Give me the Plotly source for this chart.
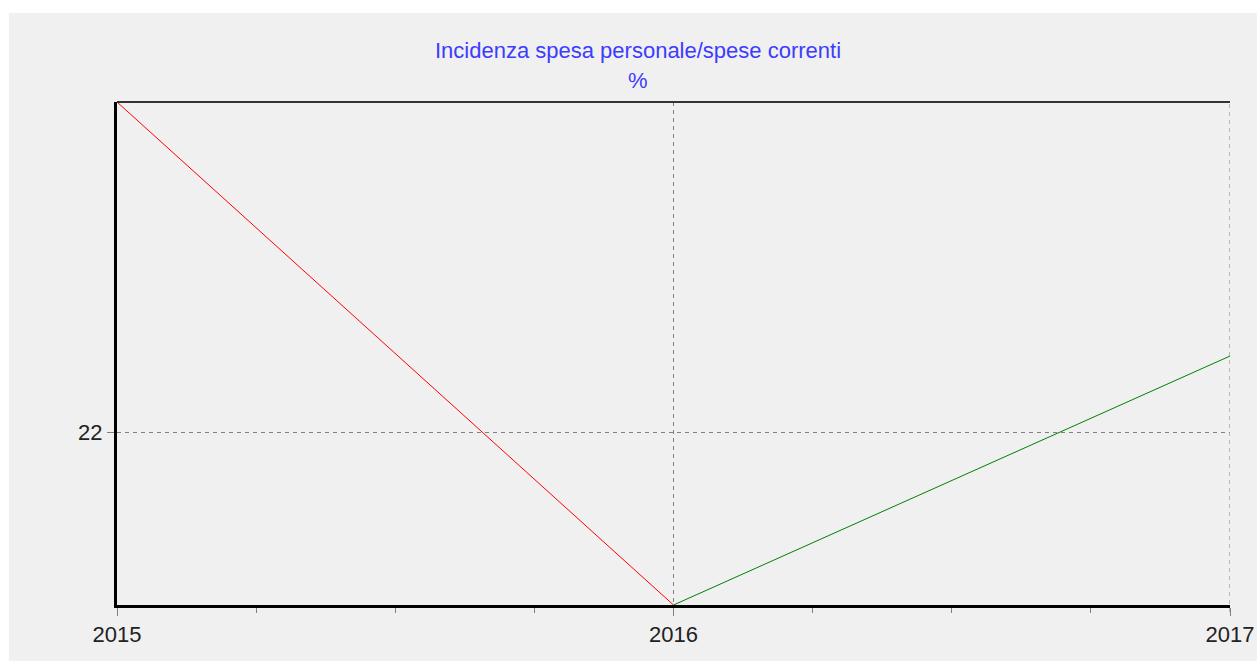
import plotly.graph_objects as go

years = [2015, 2016, 2017]
values = [22.65, 21.66, 22.15]
x_ticks = [2015, 2016, 2017]
y_ticks = [22]
title_line1 = "Incidenza spesa personale/spese correnti"
title_line2 = "%"

W, H = 1257, 661
L, R, T, B = 117, 27, 102, 56
pw = W - L - R
ph = H - T - B
DASH = "4px,4px"

fig = go.Figure()
fig.add_trace(go.Scatter(x=years[0:2], y=values[0:2], mode="lines",
                         line=dict(color="#ff0000", width=1), showlegend=False))
fig.add_trace(go.Scatter(x=years[1:3], y=values[1:3], mode="lines",
                         line=dict(color="#008000", width=1), showlegend=False))

def px_x(p):
    return (p - L) / pw

def px_y(p):
    return (H - B - p) / ph

fig.add_shape(type="rect", xref="paper", yref="paper",
              x0=px_x(9), x1=px_x(1270), y0=px_y(661), y1=px_y(13),
              fillcolor="#f0f0f0", line=dict(width=0), layer="below")
# right edge gridline (at last x tick)
fig.add_shape(type="line", xref="x", yref="paper",
              x0=max(years), x1=max(years), y0=px_y(612), y1=1,
              line=dict(color="#808080", width=1, dash=DASH), layer="below")
# top border
fig.add_shape(type="line", xref="paper", yref="paper",
              x0=0, x1=1, y0=1, y1=1, line=dict(color="#333333", width=2))

font = "Liberation Sans, Arial, sans-serif"
fig.add_annotation(text=title_line1, xref="paper", yref="paper",
                   x=px_x(638), y=px_y(51), showarrow=False,
                   font=dict(family=font, size=22, color="#3c3cff"),
                   xanchor="center", yanchor="middle")
fig.add_annotation(text=title_line2, xref="paper", yref="paper",
                   x=px_x(638), y=px_y(80), showarrow=False,
                   font=dict(family=font, size=22, color="#3c3cff"),
                   xanchor="center", yanchor="middle")

fig.update_layout(
    width=W, height=H, autosize=False,
    margin=dict(l=L, r=R, t=T, b=B, pad=0, autoexpand=False),
    paper_bgcolor="white",
    plot_bgcolor="rgba(0,0,0,0)",
    showlegend=False,
)
fig.update_xaxes(
    range=[min(years), max(years)],
    tickvals=x_ticks, ticktext=[str(v) for v in x_ticks],
    showgrid=True, gridcolor="#808080", griddash=DASH, gridwidth=1,
    showline=True, linecolor="black", linewidth=3,
    ticks="outside", ticklen=8, tickcolor="#808080", tickwidth=1,
    minor=dict(dtick=0.25, ticks="outside", ticklen=5, tickcolor="#808080", showgrid=False),
    tickfont=dict(family=font, size=22, color="#222222"),
    automargin=False, ticklabeloverflow="allow",
    zeroline=False, fixedrange=True,
)
fig.update_yaxes(
    range=[min(values), max(values)],
    tickvals=y_ticks, ticktext=[str(v) for v in y_ticks],
    showgrid=True, gridcolor="#808080", griddash=DASH, gridwidth=1,
    showline=True, linecolor="black", linewidth=3,
    ticks="outside", ticklen=7, tickcolor="#808080", tickwidth=1,
    tickfont=dict(family=font, size=22, color="#222222"),
    automargin=False,
    zeroline=False, fixedrange=True,
)

fig.write_html(
    "out.html",
    config={"responsive": False, "displayModeBar": False, "staticPlot": True},
    post_script="document.body.style.margin='0';document.body.style.overflow='hidden';",
)
